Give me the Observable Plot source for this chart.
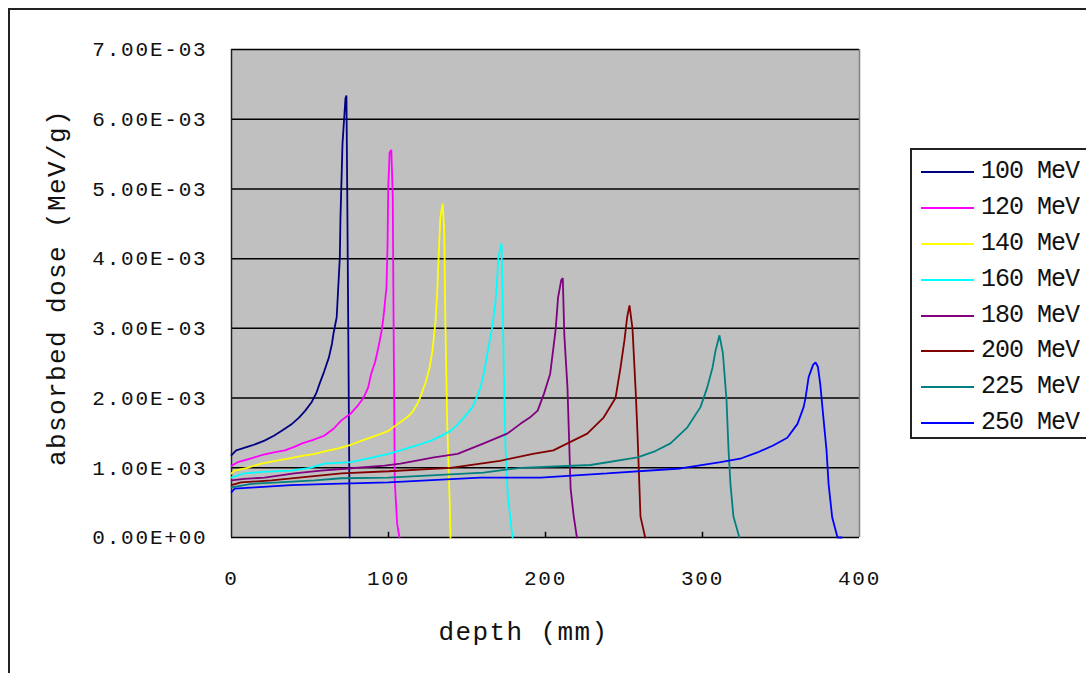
<!DOCTYPE html>
<html><head><meta charset="utf-8">
<script src="https://cdn.jsdelivr.net/npm/d3@7"></script>
<script src="https://cdn.jsdelivr.net/npm/@observablehq/plot@0.6"></script>
<style>
body{margin:0;background:#fff;}
#wrap{position:relative;width:1086px;height:673px;overflow:hidden;font-family:"Liberation Mono",monospace;background:#fff;}
#border{position:absolute;left:8px;top:8px;width:1200px;height:800px;border:2px solid #222;box-sizing:border-box;}
#chart{position:absolute;left:0;top:0;}
#legend{position:absolute;left:910px;top:148px;width:220px;height:291px;border:2px solid #222;box-sizing:border-box;background:#fff;}
.item{position:absolute;left:0;height:0;}
.swatch{position:absolute;left:9px;width:53px;top:-1px;height:2px;}
.lab{position:absolute;left:69px;top:-14px;font-size:25px;line-height:28px;letter-spacing:-1px;color:#111;white-space:pre;}
</style></head>
<body>
<div id="wrap"><div id="border"></div><div id="chart"></div><div id="legend"></div></div>
<script>
const seriesNames = ["100 MeV","120 MeV","140 MeV","160 MeV","180 MeV","200 MeV","225 MeV","250 MeV"];
const seriesColors = ["#000080","#FF00FF","#FFFF00","#00FFFF","#800080","#800000","#008080","#0000FF"];
const xTicks = [0,100,200,300,400];
const yTicks = [0,1e-3,2e-3,3e-3,4e-3,5e-3,6e-3,7e-3];
const yTickLabels = ["0.00E+00","1.00E-03","2.00E-03","3.00E-03","4.00E-03","5.00E-03","6.00E-03","7.00E-03"];
const xTitle = "depth (mm)";
const yTitle = "absorbed dose (MeV/g)";

const depth100 = [0,3,13,21,27,32,38,43,47,51,54,56,59,62,64,65,67,68,69,69.4,70.7,72.6,73.2,73.7,74.5,75.3];
const dose100 = [1.18e-3,1.25e-3,1.32e-3,1.39e-3,1.46e-3,1.53e-3,1.62e-3,1.72e-3,1.82e-3,1.94e-3,2.07e-3,2.2e-3,2.38e-3,2.58e-3,2.78e-3,2.93e-3,3.16e-3,3.59e-3,4.02e-3,4.58e-3,5.65e-3,6.3e-3,6.34e-3,5.0e-3,2.6e-3,0];
const depth120 = [0,4,12,19,27,34,40,45,52,59,65,70,76,80,84,87,89,91.5,93.6,95.5,96.8,98.7,99.4,99.8,100.7,101.8,102.7,103.3,104,105.5,107];
const dose120 = [1.03e-3,1.08e-3,1.13e-3,1.18e-3,1.22e-3,1.25e-3,1.3e-3,1.35e-3,1.4e-3,1.46e-3,1.56e-3,1.68e-3,1.78e-3,1.88e-3,2.0e-3,2.15e-3,2.35e-3,2.52e-3,2.73e-3,2.95e-3,3.16e-3,3.59e-3,4.2e-3,5.0e-3,5.52e-3,5.56e-3,4.9e-3,2.9e-3,0.8e-3,0.2e-3,0];
const depth140 = [0,2,10,19,28,36,45,53,60,68,76,83,92,100,106,111,114.6,118,120,123.6,126,128,130,131,132,133,134.5,135.5,136.2,137.4,139,139.5];
const dose140 = [0.92e-3,0.96e-3,1.0e-3,1.06e-3,1.1e-3,1.13e-3,1.17e-3,1.2e-3,1.24e-3,1.28e-3,1.33e-3,1.39e-3,1.46e-3,1.53e-3,1.63e-3,1.71e-3,1.78e-3,1.9e-3,2.0e-3,2.22e-3,2.42e-3,2.68e-3,3.11e-3,3.5e-3,4.07e-3,4.59e-3,4.79e-3,4.4e-3,3.11e-3,1.63e-3,0.5e-3,0];
const depth160 = [0,8,20,38,50,59,76,88,100,107.6,118,127,133,139.5,144,148,153.5,156,158.6,161,163,166,168,169,170,172,172.7,173.5,174.5,176,179];
const dose160 = [0.86e-3,0.92e-3,0.94e-3,0.96e-3,1.0e-3,1.06e-3,1.08e-3,1.14e-3,1.2e-3,1.25e-3,1.32e-3,1.39e-3,1.45e-3,1.53e-3,1.62e-3,1.72e-3,1.87e-3,2.0e-3,2.15e-3,2.38e-3,2.64e-3,3.01e-3,3.35e-3,3.64e-3,4.02e-3,4.22e-3,3.4e-3,2.35e-3,1.3e-3,0.6e-3,0];
const depth180 = [0,8,21,40,57,74.5,97.5,107.6,129,144,160.7,175.6,184,190,195,199,203,206.4,208,210,211,212,214,216,218,220];
const dose180 = [0.82e-3,0.84e-3,0.86e-3,0.92e-3,0.96e-3,0.99e-3,1.03e-3,1.06e-3,1.15e-3,1.2e-3,1.35e-3,1.49e-3,1.63e-3,1.72e-3,1.82e-3,2.06e-3,2.35e-3,2.97e-3,3.44e-3,3.69e-3,3.72e-3,2.9e-3,2.15e-3,0.7e-3,0.3e-3,0];
const depth200 = [0,6,25.5,43,70,100,139.5,171,192,205,214,226.6,237,244.6,247.8,250.3,252,253.5,255.4,257.5,258.6,260.5,263.5];
const dose200 = [0.75e-3,0.79e-3,0.82e-3,0.86e-3,0.92e-3,0.95e-3,1.0e-3,1.1e-3,1.2e-3,1.25e-3,1.35e-3,1.49e-3,1.72e-3,2.0e-3,2.44e-3,2.83e-3,3.16e-3,3.33e-3,3.0e-3,2.07e-3,1.49e-3,0.3e-3,0];
const depth225 = [0,12.7,30,53,70,100,160.5,184,228.7,258.6,270,279.6,290.4,298.7,303,306.4,308.3,310.8,313,315.3,316.6,317.8,319.7,323.5];
const dose225 = [0.72e-3,0.77e-3,0.79e-3,0.82e-3,0.85e-3,0.86e-3,0.93e-3,1.0e-3,1.04e-3,1.15e-3,1.24e-3,1.35e-3,1.58e-3,1.87e-3,2.15e-3,2.44e-3,2.68e-3,2.9e-3,2.64e-3,1.97e-3,1.25e-3,0.77e-3,0.3e-3,0];
const depth250 = [0,2,15,38,64,100,158.6,197,239,286,311.5,324,335,345,354,360.5,364.4,365.6,367.6,370.5,372,373.5,375,377,379,380.3,382.6,386,388.7];
const dose250 = [0.65e-3,0.7e-3,0.72e-3,0.75e-3,0.77e-3,0.79e-3,0.86e-3,0.86e-3,0.92e-3,0.99e-3,1.08e-3,1.13e-3,1.22e-3,1.32e-3,1.43e-3,1.63e-3,1.87e-3,2.0e-3,2.3e-3,2.48e-3,2.51e-3,2.45e-3,2.2e-3,1.72e-3,1.25e-3,0.77e-3,0.29e-3,0,0];

const depths = [depth100,depth120,depth140,depth160,depth180,depth200,depth225,depth250];
const doses = [dose100,dose120,dose140,dose160,dose180,dose200,dose225,dose250];
const rows = [];
seriesNames.forEach((name, s) => depths[s].forEach((d, i) => rows.push({series: name, depth: d, dose: doses[s][i]})));

const chart = Plot.plot({
  width: 1086, height: 673,
  marginLeft: 231, marginRight: 227, marginTop: 49, marginBottom: 136,
  x: {domain: [0, 400]},
  y: {domain: [0, 7e-3]},
  color: {domain: seriesNames, range: seriesColors},
  style: {fontFamily: "'Liberation Mono', monospace", background: "transparent", color: "#111", overflow: "visible"},
  marks: [
    Plot.frame({fill: "#C0C0C0", stroke: null}),
    Plot.ruleY(yTicks, {stroke: "#000", strokeWidth: 1.5}),
    Plot.ruleX([0], {stroke: "#222", strokeWidth: 1.5}),
    Plot.ruleX([400], {stroke: "#808080", strokeWidth: 1.5}),
    Plot.ruleX(xTicks.slice(1, -1), {y1: 0, y2: 0.075e-3, stroke: "#000", strokeWidth: 1.5}),
    Plot.line(rows, {x: "depth", y: "dose", z: "series", stroke: "series", strokeWidth: 1.8, strokeLinejoin: "miter"}),
    Plot.axisY(yTicks, {tickSize: 0, tickPadding: 24, label: null, fontSize: 21, tickFormat: d => yTickLabels[yTicks.indexOf(d)]}),
    Plot.axisX(xTicks, {tickSize: 0, tickPadding: 33, label: null, fontSize: 21}),
    Plot.text([xTitle], {text: d => d, frameAnchor: "bottom", dx: -22, dy: 94, fontSize: 26, lineAnchor: "middle"}),
    Plot.text([yTitle], {text: d => d, frameAnchor: "left", textAnchor: "middle", rotate: -90, dx: -175, dy: -6, fontSize: 26, lineAnchor: "middle"})
  ]
});
document.getElementById("chart").appendChild(chart);
d3.select(chart).selectAll('g[aria-label="y-axis tick label"] text, g[aria-label="x-axis tick label"] text').style("letter-spacing", "1.8px");
d3.select(chart).selectAll('g[aria-label="text"] text').style("letter-spacing", "1.4px");

const legend = document.getElementById("legend");
const centers = [22, 58, 94, 130, 166, 201, 237, 273];
seriesNames.forEach((name, i) => {
  const it = document.createElement("div");
  it.className = "item";
  it.style.top = centers[i] + "px";
  it.innerHTML = `<div class="swatch" style="background:${seriesColors[i]}"></div><div class="lab">${name}</div>`;
  legend.appendChild(it);
});
</script>
</body></html>
